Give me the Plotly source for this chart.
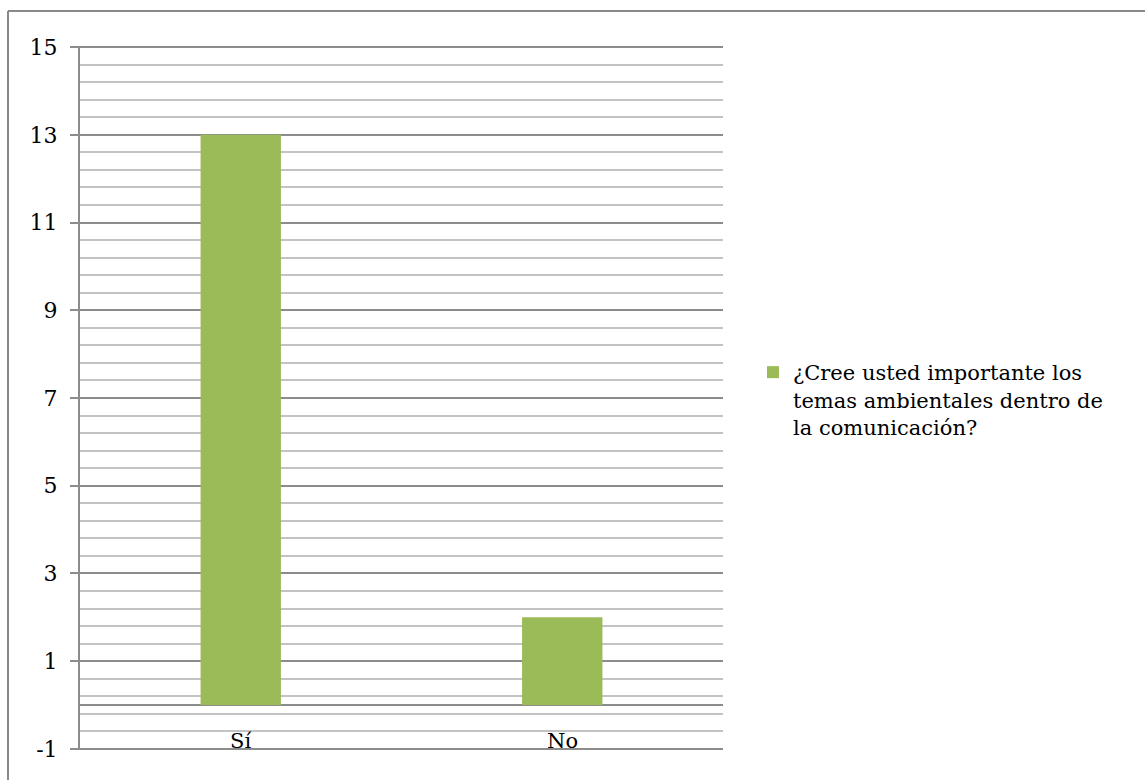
import plotly.graph_objects as go

# Survey answers
categories = ["Sí", "No"]
counts = [13, 2]
series_name = "¿Cree usted importante los<br>temas ambientales dentro de<br>la comunicación?"
y_ticks = [-1, 1, 3, 5, 7, 9, 11, 13, 15]

W, H = 1145, 780
L, R, T, B = 80, 422, 46, 30
plot_w = W - L - R
plot_h = H - T - B


def px_to_paper_x(px):
    return (px - L) / plot_w


def px_to_paper_y(py):
    return 1 - (py - T) / plot_h


FONT = "DejaVu Serif"
GREEN = "#9BBB59"
MAJOR = "#8C8C8C"
MINOR = "#C3C3C3"

fig = go.Figure()
fig.add_trace(go.Bar(
    x=categories,
    y=counts,
    name=series_name,
    marker=dict(color=GREEN, line=dict(width=0)),
    showlegend=True,
))

# Category labels sit on the bottom edge of the plot
for c in categories:
    fig.add_annotation(
        x=c, y=y_ticks[0], xref="x", yref="y",
        text=c, showarrow=False, yanchor="bottom", yshift=-6,
        font=dict(family=FONT, size=21, color="#000000"),
    )

# Outer chart frame (top and left edges)
fx = px_to_paper_x(8)
fy = px_to_paper_y(11)
fig.add_shape(type="line", xref="paper", yref="paper",
              x0=fx, x1=fx, y0=px_to_paper_y(H + 5), y1=fy,
              line=dict(color="#888888", width=2))
fig.add_shape(type="line", xref="paper", yref="paper",
              x0=fx, x1=px_to_paper_x(W + 5), y0=fy, y1=fy,
              line=dict(color="#888888", width=2))

pad = 0.025  # keeps the gridlines at -1 and 15 inside the plot area

fig.update_layout(
    width=W, height=H,
    margin=dict(l=L, r=R, t=T, b=B),
    paper_bgcolor="white",
    plot_bgcolor="white",
    bargap=0.75,
    font=dict(family=FONT, size=21, color="#000000"),
    legend=dict(
        x=px_to_paper_x(753), xanchor="left",
        y=px_to_paper_y(352), yanchor="top",
        valign="top",
        font=dict(family=FONT, size=21, color="#000000"),
        bgcolor="rgba(0,0,0,0)",
        itemwidth=30,
    ),
    xaxis=dict(
        showticklabels=False,
        showgrid=False,
        showline=False,
        zeroline=False,
        ticks="",
    ),
    yaxis=dict(
        range=[y_ticks[0] - pad, y_ticks[-1] + pad],
        tickmode="array",
        tickvals=y_ticks,
        ticktext=[str(v) for v in y_ticks],
        showgrid=True,
        gridcolor=MAJOR,
        gridwidth=2,
        zeroline=True,
        zerolinecolor=MAJOR,
        zerolinewidth=2,
        showline=True,
        linecolor=MAJOR,
        linewidth=2,
        ticks="outside",
        ticklen=8,
        tickwidth=2,
        tickcolor=MAJOR,
        ticklabelstandoff=8,
        tickfont=dict(family=FONT, size=22, color="#000000"),
        minor=dict(
            tick0=-1,
            dtick=0.4,
            showgrid=True,
            gridcolor=MINOR,
            gridwidth=2,
            ticks="",
        ),
    ),
)

fig.write_html("out.html")
